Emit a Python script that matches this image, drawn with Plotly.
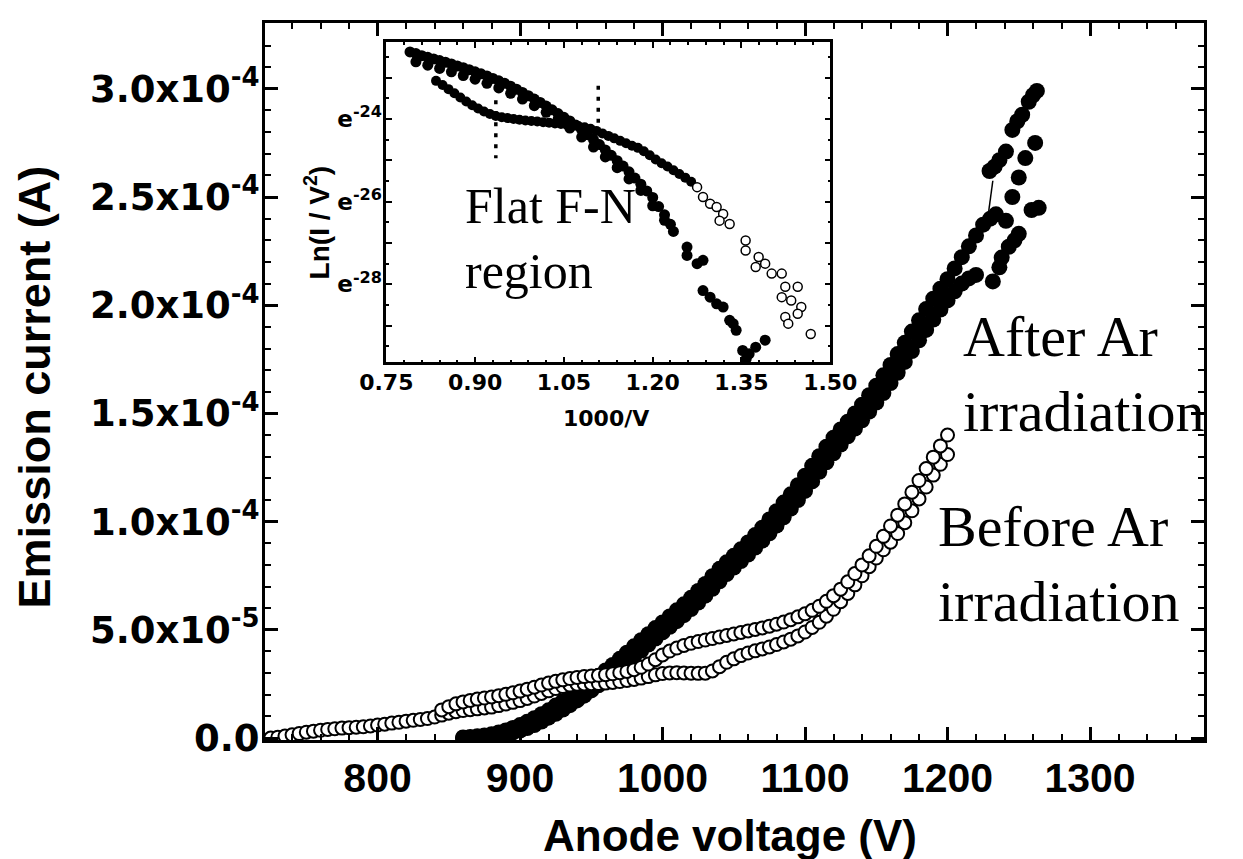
import plotly.graph_objects as go

# ---------------- main plot data (current in units of 1e-4 A) ----------------
after_a_v = [860, 865, 870, 875, 880, 885, 890, 895,
             900, 905, 910, 915, 920, 925, 930, 935, 940, 945,
             950, 955, 960, 965, 970, 975, 980, 985, 990, 995,
             1000, 1005, 1010, 1015, 1020, 1025, 1030, 1035, 1040, 1045,
             1050, 1055, 1060, 1065, 1070, 1075, 1080, 1085, 1090, 1095,
             1100, 1105, 1110, 1115, 1120, 1125, 1130, 1135, 1140, 1145,
             1150, 1155, 1160, 1165, 1170, 1175, 1180, 1185, 1190, 1195,
             1200, 1205, 1210, 1215, 1220, 1225, 1230, 1234]
after_a_i = [0.003, 0.005, 0.008, 0.012, 0.018, 0.026, 0.035, 0.047,
             0.060, 0.075, 0.092, 0.110, 0.128, 0.150, 0.170, 0.192, 0.214, 0.238,
             0.262, 0.287, 0.312, 0.338, 0.366, 0.394, 0.424, 0.452, 0.480, 0.508,
             0.534, 0.562, 0.590, 0.618, 0.648, 0.680, 0.712, 0.748, 0.782, 0.812,
             0.842, 0.872, 0.904, 0.938, 0.972, 1.010, 1.048, 1.088, 1.126, 1.168,
             1.212, 1.258, 1.302, 1.346, 1.388, 1.426, 1.462, 1.500, 1.540, 1.584,
             1.628, 1.676, 1.724, 1.774, 1.826, 1.878, 1.930, 1.982, 2.030, 2.076,
             2.120, 2.170, 2.222, 2.272, 2.322, 2.372, 2.400, 2.420]

after_b_v = [860, 865, 870, 875, 880, 885, 890, 895, 900, 905,
             910, 915, 920, 925, 930, 935, 940, 945, 950, 955,
             960, 965, 970, 975, 980, 985, 990, 995, 1000, 1005,
             1010, 1015, 1020, 1025, 1030, 1035, 1040, 1045, 1050, 1055,
             1060, 1065, 1070, 1075, 1080, 1085, 1090, 1095, 1100, 1105,
             1110, 1115, 1120, 1125, 1130, 1135, 1140, 1145, 1150, 1155,
             1160, 1165, 1170, 1175, 1180, 1185, 1190, 1195, 1200, 1205,
             1210, 1215, 1220]
after_b_i = [0.000, 0.001, 0.003, 0.005, 0.008, 0.012, 0.018, 0.026, 0.035, 0.046,
             0.060, 0.076, 0.094, 0.112, 0.132, 0.152, 0.174, 0.196, 0.220, 0.244,
             0.268, 0.294, 0.320, 0.348, 0.376, 0.404, 0.432, 0.460, 0.488, 0.514,
             0.540, 0.568, 0.596, 0.626, 0.658, 0.690, 0.724, 0.758, 0.788, 0.818,
             0.848, 0.880, 0.912, 0.946, 0.982, 1.020, 1.060, 1.100, 1.142, 1.186,
             1.230, 1.274, 1.316, 1.356, 1.394, 1.430, 1.468, 1.508, 1.550, 1.594,
             1.640, 1.688, 1.738, 1.788, 1.838, 1.886, 1.934, 1.980, 2.022, 2.064,
             2.100, 2.124, 2.140]

# end branches of the "after" data (top right)
after_top_v = [1229.5, 1233, 1236.4, 1241, 1245.5, 1249, 1252.4, 1257, 1260, 1262.7]
after_top_i = [2.62, 2.64, 2.67, 2.71, 2.81, 2.85, 2.88, 2.94, 2.97, 2.99]
after_side_v = [1231.8, 1236.4, 1238, 1243, 1247, 1250, 1259, 1264,
                1241, 1245.5, 1250, 1254.6, 1261.5]
after_side_i = [2.11, 2.175, 2.22, 2.27, 2.30, 2.33, 2.44, 2.45,
                2.39, 2.50, 2.59, 2.68, 2.75]
after_link_v = [1227.7, 1231.8]
after_link_i = [2.376, 2.575]

before_a_v = [725, 730, 735, 740, 745, 750, 755, 760, 765, 770,
              775, 780, 785, 790, 795, 800, 805, 810, 815, 820,
              825, 830, 835, 840, 845, 850, 855, 860, 865, 870,
              875, 880, 885, 890, 895, 900, 905, 910, 915, 920,
              925, 930, 935, 940, 945, 950, 955, 960, 965, 970,
              975, 980, 985, 990, 995, 1000, 1005, 1010, 1015, 1020,
              1025, 1030, 1035, 1040, 1045, 1050, 1055, 1060, 1065, 1070,
              1075, 1080, 1085, 1090, 1095, 1100, 1105, 1110, 1115, 1120,
              1125, 1130, 1135, 1140, 1145, 1150, 1155, 1160, 1165, 1170,
              1175, 1180, 1185, 1190, 1195, 1200]
before_a_i = [0.000, 0.004, 0.009, 0.015, 0.021, 0.027, 0.032, 0.036, 0.040, 0.043,
              0.046, 0.048, 0.050, 0.052, 0.056, 0.060, 0.064, 0.069, 0.073, 0.078,
              0.082, 0.086, 0.090, 0.097, 0.106, 0.115, 0.122, 0.127, 0.131, 0.135,
              0.139, 0.143, 0.150, 0.157, 0.165, 0.173, 0.183, 0.194, 0.206, 0.218,
              0.229, 0.238, 0.245, 0.249, 0.250, 0.251, 0.252, 0.254, 0.257, 0.261,
              0.266, 0.271, 0.277, 0.284, 0.292, 0.298, 0.301, 0.302, 0.301, 0.300,
              0.299, 0.300, 0.310, 0.330, 0.350, 0.366, 0.381, 0.393, 0.403, 0.412,
              0.421, 0.432, 0.444, 0.457, 0.472, 0.490, 0.511, 0.535, 0.563, 0.595,
              0.630, 0.668, 0.708, 0.750, 0.792, 0.832, 0.870, 0.905, 0.945, 0.995,
              1.050, 1.105, 1.160, 1.215, 1.265, 1.310]

before_b_v = [845, 850, 855, 860, 865, 870, 875, 880, 885, 890,
              895, 900, 905, 910, 915, 920, 925, 930, 935, 940,
              945, 950, 955, 960, 965, 970, 975, 980, 985, 990,
              995, 1000, 1005, 1010, 1015, 1020, 1025, 1030, 1035, 1040,
              1045, 1050, 1055, 1060, 1065, 1070, 1075, 1080, 1085, 1090,
              1095, 1100, 1105, 1110, 1115, 1120, 1125, 1130, 1135, 1140,
              1145, 1150, 1155, 1160, 1165, 1170, 1175, 1180, 1185, 1190,
              1195, 1200]
before_b_i = [0.130, 0.145, 0.158, 0.167, 0.174, 0.180, 0.185, 0.190, 0.196, 0.202,
              0.209, 0.217, 0.226, 0.235, 0.245, 0.254, 0.262, 0.269, 0.275, 0.280,
              0.284, 0.287, 0.290, 0.293, 0.297, 0.302, 0.308, 0.316, 0.327, 0.342,
              0.362, 0.384, 0.402, 0.416, 0.428, 0.438, 0.446, 0.453, 0.460, 0.467,
              0.474, 0.481, 0.488, 0.495, 0.502, 0.509, 0.517, 0.526, 0.536, 0.547,
              0.560, 0.574, 0.590, 0.609, 0.632, 0.658, 0.688, 0.722, 0.760, 0.800,
              0.842, 0.886, 0.932, 0.980, 1.030, 1.082, 1.136, 1.190, 1.245, 1.298,
              1.350, 1.400]

# ---------------- inset data: 1000/V vs ln(I/V^2) ----------------
in_after_x = [0.79, 0.80, 0.81, 0.82, 0.83, 0.84, 0.85, 0.86, 0.87, 0.88,
              0.89, 0.90, 0.91, 0.92, 0.93, 0.94, 0.95, 0.96, 0.97, 0.98,
              0.99, 1.00, 1.01, 1.02, 1.03, 1.04, 1.05, 1.06, 1.07, 1.08,
              1.09, 1.10, 1.11, 1.12, 1.13, 1.14, 1.15, 1.16, 1.17, 1.18,
              1.19, 1.20, 1.21, 1.22, 1.23,
              0.80, 0.82, 0.84, 0.86, 0.88, 0.90, 0.92, 0.94, 0.96, 0.98,
              1.00, 1.02, 1.04, 1.06, 1.08, 1.10, 1.12, 1.14, 1.16, 1.18,
              1.20, 1.22, 1.235,
              1.258, 1.258, 1.275, 1.285, 1.285, 1.297, 1.308, 1.319, 1.33, 1.336,
              1.341, 1.352, 1.363, 1.374, 1.39, 1.358]
in_after_y = [-22.38, -22.42, -22.47, -22.51, -22.55, -22.59, -22.63, -22.67, -22.72, -22.76,
              -22.81, -22.86, -22.91, -22.96, -23.02, -23.08, -23.14, -23.21, -23.28, -23.36,
              -23.44, -23.52, -23.60, -23.69, -23.78, -23.87, -23.96, -24.05, -24.15, -24.26,
              -24.38, -24.50, -24.62, -24.75, -24.88, -25.01, -25.14, -25.28, -25.43, -25.58,
              -25.74, -25.90, -26.12, -26.32, -26.55,
              -22.62, -22.70, -22.78, -22.86, -22.95, -23.04, -23.14, -23.25, -23.38, -23.52,
              -23.68, -23.84, -24.02, -24.22, -24.44, -24.68, -24.92, -25.18, -25.45, -25.73,
              -26.10, -26.45, -26.72,
              -27.10, -27.30, -27.50, -27.42, -28.15, -28.31, -28.47, -28.55, -28.87, -28.95,
              -29.11, -29.60, -29.68, -29.52, -29.35, -29.80]

in_before_x = [0.834, 0.845, 0.855, 0.865, 0.875, 0.885, 0.895, 0.905, 0.915, 0.925,
               0.935, 0.945, 0.955, 0.965, 0.975, 0.985, 0.995, 1.005, 1.015, 1.025,
               1.035, 1.045, 1.055, 1.065, 1.075, 1.085, 1.095, 1.105, 1.115, 1.125,
               1.135, 1.145, 1.155, 1.165, 1.175, 1.185, 1.195, 1.205, 1.215, 1.225,
               1.235, 1.245, 1.255, 1.265]
in_before_y = [-23.08, -23.18, -23.28, -23.38, -23.48, -23.58, -23.67, -23.75, -23.82, -23.88,
               -23.93, -23.96, -23.98, -24.00, -24.02, -24.04, -24.05, -24.06, -24.08, -24.09,
               -24.11, -24.12, -24.14, -24.16, -24.18, -24.20, -24.24, -24.29, -24.35, -24.41,
               -24.47, -24.53, -24.59, -24.65, -24.70, -24.78, -24.88, -24.98, -25.07, -25.15,
               -25.24, -25.33, -25.42, -25.52]
in_before_open_x = [1.275, 1.285, 1.297, 1.308, 1.319, 1.313, 1.33, 1.357, 1.357, 1.379,
                    1.39, 1.374, 1.401, 1.418, 1.424, 1.445, 1.418, 1.434, 1.451, 1.445,
                    1.424, 1.429, 1.467]
in_before_open_y = [-25.65, -25.89, -26.05, -26.13, -26.30, -26.46, -26.54, -26.94, -27.18, -27.34,
                    -27.50, -27.58, -27.74, -27.74, -28.06, -28.06, -28.31, -28.39, -28.55, -28.71,
                    -28.79, -28.95, -29.20]

flat_region_x = [0.935, 1.108]
flat_region_y_top = [-23.55, -23.20]
flat_region_y_bot = [-24.95, -24.10]

main_xticks = [800, 900, 1000, 1100, 1200, 1300]
main_yticks = [0.0, 0.5, 1.0, 1.5, 2.0, 2.5, 3.0]
main_yticktext = ["0.0", "5.0x10<sup>-5</sup>", "1.0x10<sup>-4</sup>", "1.5x10<sup>-4</sup>",
                  "2.0x10<sup>-4</sup>", "2.5x10<sup>-4</sup>", "3.0x10<sup>-4</sup>"]
inset_xticks = [0.75, 0.90, 1.05, 1.20, 1.35, 1.50]
inset_yticks = [-23, -24, -25, -26, -27, -28, -29]
inset_yticktext = ["", "e<sup>-24</sup>", "", "e<sup>-26</sup>", "", "e<sup>-28</sup>", ""]

SCALE = 1e-4  # current values above are in units of 1e-4 A


def amps(vals):
    return [v * SCALE for v in vals]


SANS = "Liberation Sans, Arial, sans-serif"
WIDE = "DejaVu Sans, Verdana, sans-serif"
SERIF = "Liberation Serif, Times New Roman, serif"

fig = go.Figure()

filled = dict(symbol="circle", size=16, color="black", line=dict(width=0))
opened = dict(symbol="circle", size=13, color="white", line=dict(width=2, color="black"))

fig.add_trace(go.Scatter(x=after_a_v, y=amps(after_a_i), mode="markers", marker=filled))
fig.add_trace(go.Scatter(x=after_b_v, y=amps(after_b_i), mode="markers", marker=filled))
fig.add_trace(go.Scatter(x=after_top_v, y=amps(after_top_i), mode="markers", marker=filled))
fig.add_trace(go.Scatter(x=after_side_v, y=amps(after_side_i), mode="markers", marker=filled))
fig.add_trace(go.Scatter(x=after_link_v, y=amps(after_link_i), mode="lines",
                         line=dict(color="black", width=1.5)))
fig.add_trace(go.Scatter(x=before_a_v, y=amps(before_a_i), mode="markers", marker=opened))
fig.add_trace(go.Scatter(x=before_b_v, y=amps(before_b_i), mode="markers", marker=opened))

# inset
fig.add_trace(go.Scatter(x=in_after_x, y=in_after_y, mode="markers", xaxis="x2", yaxis="y2",
                         marker=dict(symbol="circle", size=11, color="black")))
fig.add_trace(go.Scatter(x=in_before_x, y=in_before_y, mode="markers", xaxis="x2", yaxis="y2",
                         marker=dict(symbol="circle", size=10, color="black")))
fig.add_trace(go.Scatter(x=in_before_open_x, y=in_before_open_y, mode="markers", xaxis="x2", yaxis="y2",
                         marker=dict(symbol="circle", size=9, color="white",
                                     line=dict(width=1.5, color="black"))))
for xv, yt, yb in zip(flat_region_x, flat_region_y_top, flat_region_y_bot):
    fig.add_trace(go.Scatter(x=[xv, xv], y=[yt, yb], mode="lines", xaxis="x2", yaxis="y2",
                             line=dict(color="black", width=3.5, dash="4px,7px")))

axis_common = dict(showgrid=False, zeroline=False, showline=True, linecolor="black",
                   mirror="allticks", ticks="inside", tickcolor="black")

# the page body adds an 8px offset; figure is sized to fit the 1243x859 window
fig.update_layout(
    width=1235, height=851,
    margin=dict(l=257, r=18, t=14, b=119),
    paper_bgcolor="white", plot_bgcolor="white",
    showlegend=False,
    xaxis=dict(range=[721, 1380], tickvals=main_xticks, linewidth=3, ticklen=13, tickwidth=2.5,
               minor=dict(dtick=20, tick0=800, ticklen=6, tickwidth=2, ticks="inside", tickcolor="black"),
               tickfont=dict(family=SANS, size=41, color="black", weight="bold"),
               ticklabelstandoff=0, **axis_common),
    yaxis=dict(range=[-0.9e-6, 3.304e-4], tickvals=amps(main_yticks), ticktext=main_yticktext,
               linewidth=3, ticklen=13, tickwidth=2.5,
               minor=dict(dtick=1e-5, tick0=0, ticklen=6, tickwidth=2, ticks="inside", tickcolor="black"),
               tickfont=dict(family=WIDE, size=37, color="black", weight="bold"),
               ticklabelstandoff=-5, **axis_common),
    xaxis2=dict(domain=[0.1292, 0.602], anchor="y2", range=[0.75, 1.50], tickvals=inset_xticks,
                tickformat=".2f", linewidth=2.5, ticklen=6, tickwidth=2,
                minor=dict(dtick=0.03, tick0=0.75, ticklen=3, tickwidth=1.5, ticks="inside", tickcolor="black"),
                tickfont=dict(family=WIDE, size=22, color="black", weight="bold"),
                ticklabelstandoff=-2, **axis_common),
    yaxis2=dict(domain=[0.5265, 0.9735], anchor="x2", range=[-29.89, -22.14], tickvals=inset_yticks,
                ticktext=inset_yticktext, linewidth=2.5, ticklen=6, tickwidth=2,
                minor=dict(dtick=0.5, ticklen=3, tickwidth=1.5, ticks="inside", tickcolor="black"),
                tickfont=dict(family=WIDE, size=23, color="black", weight="bold"),
                ticklabelstandoff=-3, **axis_common),
)

annots = [
    dict(text="Emission current (A)", x=-0.2458, y=0.492, textangle=-90,
         font=dict(family=SANS, size=45, color="black", weight="bold")),
    dict(text="Anode voltage (V)", x=0.495, y=-0.133,
         font=dict(family=SANS, size=44, color="black", weight="bold")),
    dict(text="1000/V", x=0.3635, y=0.4485,
         font=dict(family=WIDE, size=22, color="black", weight="bold")),
    dict(text="Ln(I / V<sup>2</sup>)", x=0.055, y=0.7214, textangle=-90,
         font=dict(family=SANS, size=28, color="black", weight="bold")),
    dict(text="After Ar<br>irradiation", x=0.7417, y=0.511, xanchor="left", align="left",
         font=dict(family=SERIF, size=58, color="black")),
    dict(text="Before Ar<br>irradiation", x=0.7144, y=0.245, xanchor="left", align="left",
         font=dict(family=SERIF, size=58, color="black")),
    dict(text="Flat F-N<br>region", x=(467 - 265) / 960, y=0.699, xanchor="left", align="left",
         font=dict(family=SERIF, size=50, color="black")),
]
for a in annots:
    a.setdefault("xanchor", "center")
    fig.add_annotation(xref="paper", yref="paper", showarrow=False, yanchor="middle", **a)

fig.write_html("out.html")
